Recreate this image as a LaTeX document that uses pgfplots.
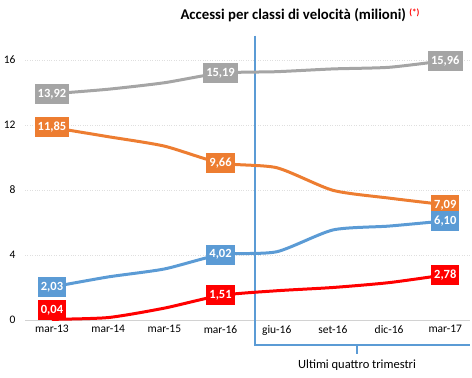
\documentclass[border=0pt]{standalone}
\usepackage{pgfplots}
\pgfplotsset{compat=1.18}
\usepackage{fontspec}
\setmainfont{Carlito}
\definecolor{cgrey}{HTML}{A5A5A5}
\definecolor{corange}{HTML}{ED7D31}
\definecolor{cblue}{HTML}{5B9BD5}
\definecolor{cred}{HTML}{FF0000}
\begin{document}
\begin{tikzpicture}
\useasboundingbox (0,0) rectangle (472pt,378pt);
\node[font=\fontsize{14.8}{17}\selectfont\bfseries] at (300pt,363pt) {Accessi per classi di velocità (milioni) \raisebox{4pt}{\textcolor{cred}{\fontsize{9}{10}\selectfont (*)}}};
\begin{axis}[
  at={(25pt,58pt)}, anchor=south west,
  scale only axis, width=445pt, height=284.4pt,
  xmin=-0.48, xmax=7.44, ymin=0, ymax=17.5,
  clip=false,
  axis lines*=left,
  x axis line style={gray!35, line width=0.8pt, -},
  y axis line style={draw=none},
  tick style={draw=none},
  xtick={0,1,2,3,4,5,6,7},
  xticklabels={mar-13,mar-14,mar-15,mar-16,giu-16,set-16,dic-16,mar-17},
  ytick={0,4,8,12,16},
  ymajorgrids,
  grid style={gray!25, dotted, line width=0.6pt},
  ticklabel style={font=\fontsize{11.5}{13}\selectfont},
  yticklabel style={xshift=-6pt},
  xticklabel style={yshift=-2pt},
  /pgf/number format/assume math mode=true,
  every axis plot/.append style={line width=3pt},
  nodes near coords style={anchor=center, text=white, font=\fontsize{12.5}{14}\selectfont\bfseries, inner sep=3pt, minimum height=20pt},
  nodes near coords={\pgfmathprintnumber[fixed, fixed zerofill, precision=2, use comma]{\pgfplotspointmeta}},
]
% vertical separator and bracket
\draw[cblue, line width=1.5pt] (axis cs:3.61,17.5) -- (axis cs:3.61,-1.55) -- (axis cs:7.44,-1.55);
\draw[cblue, line width=1.5pt] (axis cs:5.43,-1.55) -- (axis cs:5.43,-2.1);
\node[font=\fontsize{12.5}{14}\selectfont] at (axis cs:5.43,-2.78) {Ultimi quattro trimestri};

\addplot[cgrey, smooth, tension=0.4, nodes near coords={}] coordinates {(0,13.92) (1,14.2) (2,14.6) (3,15.19) (4,15.28) (5,15.45) (6,15.55) (7,15.96)};
\addplot[corange, smooth, tension=0.4, nodes near coords={}] coordinates {(0,11.85) (1,11.28) (2,10.7) (3,9.66) (4,9.37) (5,7.98) (6,7.5) (7,7.09)};
\addplot[cblue, smooth, tension=0.4, nodes near coords={}] coordinates {(0,2.03) (1,2.65) (2,3.14) (3,4.02) (4,4.2) (5,5.54) (6,5.78) (7,6.10)};
\addplot[cred, smooth, tension=0.4, nodes near coords={}] coordinates {(0,0.04) (1,0.15) (2,0.73) (3,1.51) (4,1.8) (5,2.0) (6,2.3) (7,2.78)};

\addplot[draw=none, mark=none, point meta=y, nodes near coords style={fill=cgrey}] coordinates {(0,13.92) (3,15.19) (7,15.96)};
\addplot[draw=none, mark=none, point meta=y, nodes near coords style={fill=corange}] coordinates {(0,11.85) (3,9.66) (7,7.09)};
\addplot[draw=none, mark=none, point meta=y, nodes near coords style={fill=cblue}] coordinates {(0,2.03) (3,4.02) (7,6.10)};
\addplot[draw=none, mark=none, point meta=y, nodes near coords style={fill=cred}] coordinates {(3,1.51) (7,2.78)};
\addplot[draw=none, mark=none, point meta=y, nodes near coords style={fill=cred, yshift=9pt}] coordinates {(0,0.04)};
\end{axis}
\end{tikzpicture}
\end{document}
